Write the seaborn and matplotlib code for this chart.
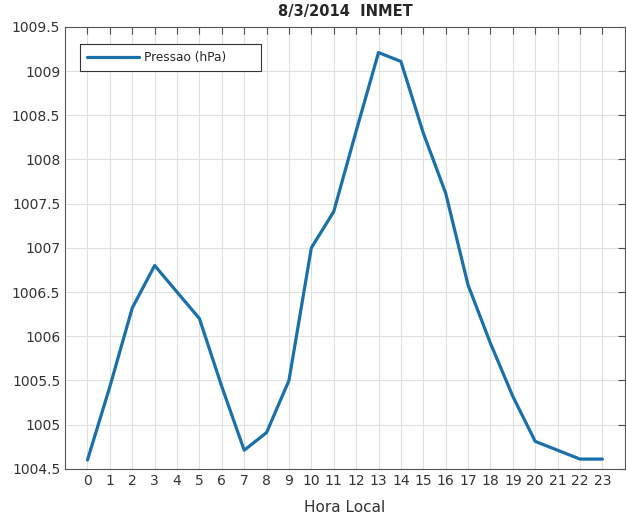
import seaborn as sns
import matplotlib.pyplot as plt
import pandas as pd

# pressao horaria, estacao INMET, 8/3/2014
hora = list(range(24))
pressao = [1004.6, 1005.43, 1006.32, 1006.8, 1006.5, 1006.2, 1005.43, 1004.71,
           1004.91, 1005.5, 1007.0, 1007.41, 1008.32, 1009.21, 1009.11, 1008.3,
           1007.62, 1006.58, 1005.92, 1005.32, 1004.81, 1004.71, 1004.61, 1004.61]
y_ticks = [1004.5, 1005, 1005.5, 1006, 1006.5, 1007, 1007.5, 1008, 1008.5, 1009, 1009.5]

df = pd.DataFrame({'Hora Local': hora, 'Pressao (hPa)': pressao})

sns.set_theme(style='whitegrid')
plt.rcParams['font.family'] = ['DejaVu Sans']

fig = plt.figure(figsize=(6.26, 5.18), dpi=100)
ax = fig.add_axes([0.104, 0.095, 0.894, 0.853])

# trailing spaces widen the legend box like the MATLAB one
sns.lineplot(data=df, x='Hora Local', y='Pressao (hPa)', color='#1a70aa',
             linewidth=2.3, label='Pressao (hPa)' + ' ' * 7, ax=ax)

ax.set_xlim(-1, 24)
ax.set_ylim(1004.5, 1009.5)
ax.set_xticks(hora)
ax.set_yticks(y_ticks)
ax.set_yticklabels([f'{v:g}' for v in y_ticks])
ax.grid(True, color='#e0e0e0', linewidth=0.8)
ax.tick_params(direction='in', length=5, width=0.8, colors='#505050',
               labelsize=10, top=True, right=True, labelcolor='#333333')
for s in ax.spines.values():
    s.set_visible(True)
    s.set_color('#555555')
    s.set_linewidth(0.8)

ax.set_xlabel('Hora Local', fontsize=11, color='#333333', labelpad=9)
ax.set_ylabel('')
ax.set_title('8/3/2014  INMET', fontsize=10.5, fontweight='bold', pad=8)

leg = ax.legend(loc='upper left', bbox_to_anchor=(0.027, 0.962), borderaxespad=0,
                fancybox=False, edgecolor='#333333', framealpha=1, fontsize=8.7,
                handlelength=4.3, handletextpad=0.4, borderpad=0.6)
leg.get_frame().set_linewidth(0.8)

fig.savefig('out.png', dpi=100)
